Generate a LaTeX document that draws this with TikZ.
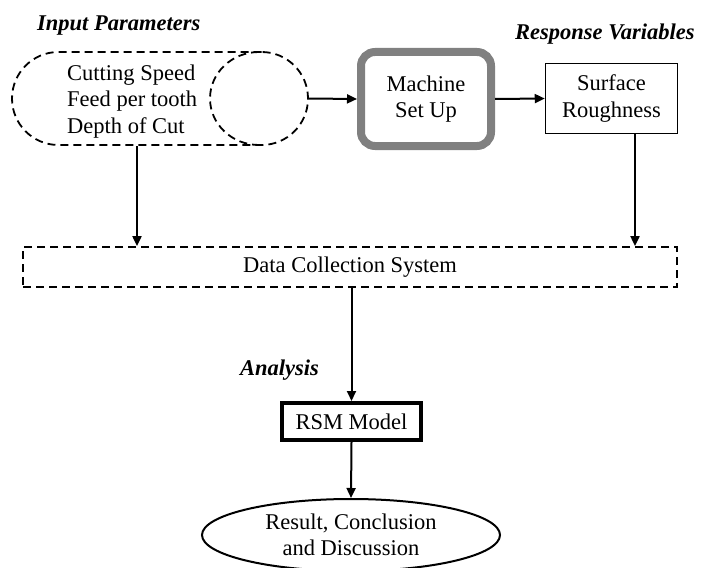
\documentclass[tikz,border=0pt]{standalone}
\usepackage{fontspec}
\setmainfont{Liberation Serif}
\usetikzlibrary{arrows.meta,shapes.geometric}
\begin{document}
\begin{tikzpicture}[x=1pt,y=-1pt,
  every node/.style={font=\fontsize{22.5}{26.5}\selectfont, inner sep=0pt},
  dsh/.style={draw=black, line width=1.8pt, dash pattern=on 8pt off 5pt},
  arr/.style={draw=black, line width=2pt, -{Triangle[length=10pt,width=9pt]}},
  lbl/.style={font=\fontsize{22.5}{27}\selectfont\bfseries\itshape, anchor=base west}
]
\useasboundingbox (0,0) rectangle (711,567);
% labels
\node[lbl] (lin) at (37,31) {Input Parameters};
\node[lbl] (lresp) at (515,40) {Response Variables};
\node[lbl] (lan) at (240,375) {Analysis};
% input stadium
\node[dsh, rectangle, rounded corners=46.5pt, minimum width=296pt, minimum height=93pt] (inp) at (160,98.5) {};
\draw[dsh] (259,52) arc[start angle=90, end angle=270, x radius=49, y radius=-46.5];
\node[align=left, anchor=base west] (inptxt) at (67,133) {Cutting Speed\\Feed per tooth\\Depth of Cut};
% machine
\node[draw=black!50, line width=8pt, rounded corners=14pt, minimum width=130pt, minimum height=94pt, align=center] (mach) at (426,99) {Machine\\Set Up};
% surface
\node[draw=black, line width=1.5pt, minimum width=132pt, minimum height=70pt, align=center] (surf) at (611.5,98.5) {Surface\\Roughness};
% data
\node[dsh, minimum width=654pt, minimum height=40pt] (data) at (350,267) {Data Collection System};
% RSM
\node[draw=black, line width=4pt, minimum width=139pt, minimum height=37pt] (rsm) at (351.5,421.5) {RSM Model};
% result
\node[draw=black, line width=2pt, ellipse, minimum width=298pt, minimum height=72pt, align=center] (res) at (351,535) {Result, Conclusion\\and Discussion};
% connectors
\coordinate (xl) at (137,0);
\coordinate (xr) at (635,0);
\draw[arr] (inp.east) -- (mach.west);
\draw[arr] (mach.east) -- (surf.west);
\draw[arr] (inp.south -| xl) -- (data.north -| xl);
\draw[arr] (surf.south -| xr) -- (data.north -| xr);
\draw[arr] (data.south -| rsm.north) -- (rsm.north);
\draw[arr] (rsm.south) -- (res.north);
\end{tikzpicture}
\end{document}
